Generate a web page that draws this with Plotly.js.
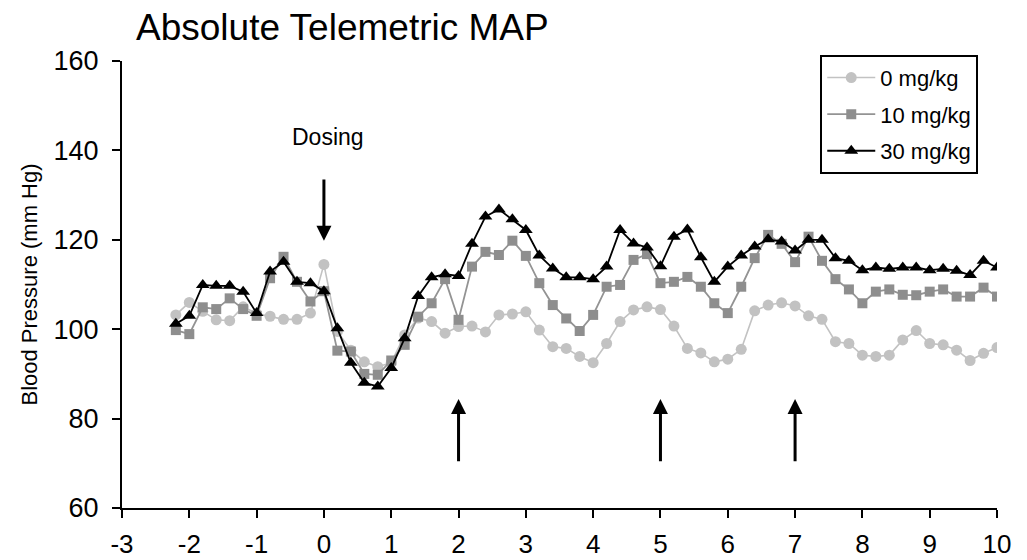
<!DOCTYPE html>
<html>
<head>
<meta charset="utf-8">
<script src="https://cdn.plot.ly/plotly-3.0.1.min.js"></script>
<style>html,body{margin:0;padding:0;background:#fff;}#chart{width:1027px;height:560px;}</style>
</head>
<body>
<div id="chart"></div>
<script>
// Time (hours) relative to dosing
const timeHours = [-2.2,-2.0,-1.8,-1.6,-1.4,-1.2,-1.0,-0.8,-0.6,-0.4,-0.2,0.0,
  0.2,0.4,0.6,0.8,1.0,1.2,1.4,1.6,1.8,2.0,2.2,2.4,2.6,2.8,3.0,3.2,3.4,3.6,3.8,4.0,
  4.2,4.4,4.6,4.8,5.0,5.2,5.4,5.6,5.8,6.0,6.2,6.4,6.6,6.8,7.0,7.2,7.4,7.6,7.8,8.0,
  8.2,8.4,8.6,8.8,9.0,9.2,9.4,9.6,9.8,10.0];

const map0 = [103.2,106.0,104.0,102.1,101.9,105.0,103.5,102.9,102.2,102.2,103.6,114.5,
  99.5,95.3,92.7,91.6,92.5,98.7,102.5,101.7,99.1,100.6,100.7,99.4,103.2,103.4,103.9,99.8,96.1,95.7,93.9,92.5,
  96.8,101.7,104.3,105.0,104.4,100.7,95.7,94.7,92.7,93.3,95.5,104.1,105.4,105.9,105.2,103.0,102.2,97.2,96.8,94.2,
  93.9,94.2,97.6,99.7,96.8,96.5,95.3,93.0,94.6,95.9];

const map10 = [99.8,98.9,104.9,104.5,106.9,104.5,103.0,111.4,116.2,110.6,106.2,108.5,
  95.2,95.0,90.0,89.8,93.0,96.5,102.8,105.8,111.2,102.1,114.0,117.3,116.6,119.8,116.4,110.3,105.4,102.4,99.6,103.2,
  109.5,109.9,115.5,116.8,110.3,110.6,111.7,109.5,105.8,103.6,109.5,115.9,121.1,119.1,115.0,120.7,115.3,111.2,108.9,105.8,
  108.4,108.9,107.7,107.6,108.4,108.9,107.3,107.3,109.3,107.3];

const map30 = [101.2,103.0,109.9,109.7,109.7,108.4,103.6,112.9,115.1,110.6,110.3,108.5,
  100.2,92.5,88.0,87.2,91.3,98.0,107.4,111.6,112.3,111.9,119.1,125.2,126.8,124.6,122.2,116.5,113.6,111.6,111.6,111.2,
  114.0,122.2,119.2,118.3,114.1,120.7,122.3,116.1,110.6,114.0,116.5,118.5,120.1,119.6,117.6,120.0,120.0,115.9,115.3,113.2,
  113.8,113.5,113.8,113.8,113.2,113.5,113.1,112.1,115.3,113.8];

const seriesNames = ['0 mg/kg','10 mg/kg','30 mg/kg'];
const xTicks = [-3,-2,-1,0,1,2,3,4,5,6,7,8,9,10];
const yTicks = [60,80,100,120,140,160];

// Annotation arrows (data units)
const dosingTime = 0;
const dosingLabelY = 143;
const dosingArrowFrom = 133.8, dosingArrowTo = 119.8;
const eventTimes = [2,5,7];
const eventArrowFrom = 70.1, eventArrowTo = 84.4;

const font = 'Liberation Sans, Arial, sans-serif';

const traces = [
  {x: timeHours, y: map0, name: seriesNames[0], legendgroup: 'a', mode: 'lines+markers',
   line: {color: '#c2c2c2', width: 1.6},
   marker: {symbol: 'circle', size: 11, color: '#c2c2c2'}},
  {x: timeHours, y: map10, name: seriesNames[1], legendgroup: 'b', mode: 'lines+markers',
   line: {color: '#939393', width: 1.8},
   marker: {symbol: 'square', size: 10, color: '#8e8e8e'}},
  {x: timeHours, y: map30, name: seriesNames[2], legendgroup: 'c', mode: 'lines+markers',
   line: {color: '#000000', width: 1.8},
   marker: {symbol: 'triangle-up', size: 12, color: '#000000'}}
];

const annotations = [
  {x: dosingTime, y: dosingLabelY, xref: 'x', yref: 'y', xshift: 4, text: 'Dosing', showarrow: false,
   font: {family: font, size: 23, color: '#000'}},
  {x: dosingTime, y: dosingArrowTo, ax: dosingTime, ay: dosingArrowFrom, xref: 'x', yref: 'y',
   axref: 'x', ayref: 'y', text: '', showarrow: true, arrowhead: 2, arrowsize: 1, arrowwidth: 3, arrowcolor: '#000'}
];
eventTimes.forEach(t => annotations.push({
  x: t, y: eventArrowTo, ax: t, ay: eventArrowFrom, xref: 'x', yref: 'y', axref: 'x', ayref: 'y',
  text: '', showarrow: true, arrowhead: 2, arrowsize: 1, arrowwidth: 3, arrowcolor: '#000'}));

const layout = {
  width: 1027, height: 560,
  margin: {l: 122, r: 30, t: 61, b: 52},
  paper_bgcolor: '#fff', plot_bgcolor: '#fff',
  title: {text: 'Absolute Telemetric MAP', x: 136/1027, xanchor: 'left', y: 0.952, yanchor: 'middle',
          font: {family: font, size: 37, color: '#000'}},
  xaxis: {range: [-3, 10], tickvals: xTicks, ticktext: xTicks.map(String), showgrid: false, zeroline: false,
          showline: true, linecolor: '#000', linewidth: 2, ticks: 'outside', ticklen: 8, tickwidth: 2, tickcolor: '#000',
          ticklabelstandoff: 4,
          tickfont: {family: font, size: 26, color: '#000'}},
  yaxis: {range: [60, 160], tickvals: yTicks, ticktext: yTicks.map(String), showgrid: false, zeroline: false,
          showline: true, linecolor: '#000', linewidth: 2, ticks: 'outside', ticklen: 8, tickwidth: 2, tickcolor: '#000',
          ticklabelstandoff: 8,
          tickfont: {family: font, size: 27, color: '#000'},
          title: {text: 'Blood Pressure (mm Hg)', standoff: 10, font: {family: font, size: 22, color: '#000'}}},
  legend: {x: 0.798, y: 1.014, xanchor: 'left', yanchor: 'top', bgcolor: '#fff', bordercolor: '#000', borderwidth: 2,
           font: {family: font, size: 22, color: '#000'}, itemwidth: 48, tracegroupgap: 5},
  annotations: annotations,
  showlegend: true
};

Plotly.newPlot('chart', traces, layout, {displayModeBar: false, staticPlot: true});
</script>
</body>
</html>
